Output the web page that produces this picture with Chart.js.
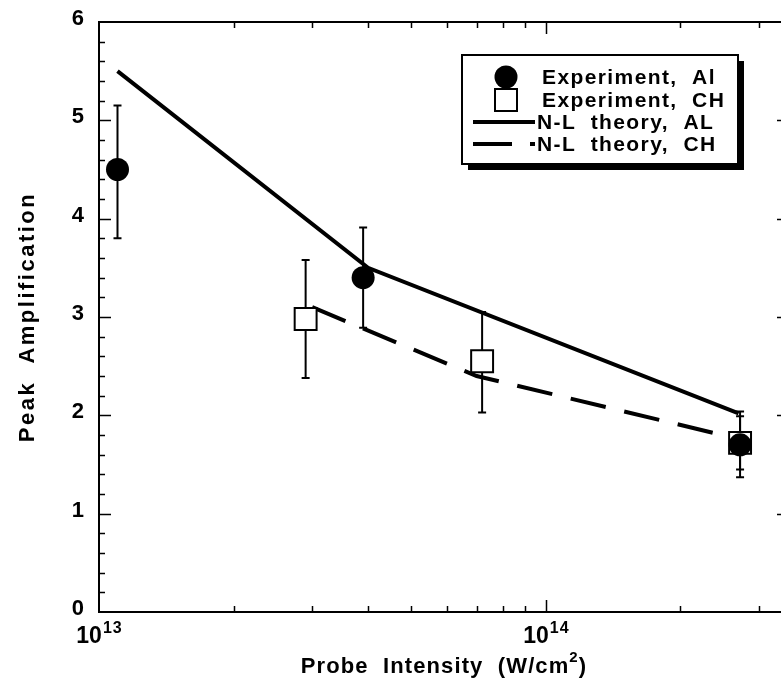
<!DOCTYPE html>
<html>
<head>
<meta charset="utf-8">
<script src="https://cdn.jsdelivr.net/npm/chart.js@4.4.1/dist/chart.umd.min.js"></script>
<style>
  html, body { margin: 0; padding: 0; background: #fff; overflow: hidden; }
  canvas { display: block; }
</style>
</head>
<body>
<canvas id="chart" width="800" height="680"></canvas>
<script>
// ── Data ──────────────────────────────────────────────────────────────────────
const alIntensity = [1.1e13, 3.9e13, 2.72e14];
const alAmp       = [4.5, 3.4, 1.7];
const alErrLow    = [3.8, 2.89, 1.37];
const alErrHigh   = [5.15, 3.91, 2.04];

const chIntensity = [2.9e13, 7.2e13, 2.72e14];
const chAmp       = [2.98, 2.55, 1.72];
const chErrLow    = [2.38, 2.03, 1.45];
const chErrHigh   = [3.58, 3.05, 1.99];

const alTheoryIntensity = [1.1e13, 4.0e13, 2.7e14];
const alTheoryAmp       = [5.5, 3.5, 2.02];
const chTheoryIntensity = [3.0e13, 7.0e13, 2.7e14];
const chTheoryAmp       = [3.1, 2.4, 1.76];

const yTickLabels = [0, 1, 2, 3, 4, 5, 6];
const xDecades    = [13, 14];               // labelled as 10^13, 10^14
const legendLabels = ['Experiment,  Al', 'Experiment,  CH', 'N-L  theory,  AL', 'N-L  theory,  CH'];

const FONT = "'Liberation Sans', Arial, Helvetica, sans-serif";

const pts = (xs, ys) => xs.map((x, i) => ({ x, y: ys[i] }));

// ── Helpers ───────────────────────────────────────────────────────────────────
function withSpacing(ctx, px, fn) {
    if ('letterSpacing' in ctx) ctx.letterSpacing = px + 'px';
    fn();
    if ('letterSpacing' in ctx) ctx.letterSpacing = '0px';
}

function drawPow(ctx, base, exp, cx, baseline, size) {
    const small = Math.round(size * 0.68);
    ctx.font = `bold ${size}px ${FONT}`;
    const wb = ctx.measureText(base).width;
    ctx.font = `bold ${small}px ${FONT}`;
    const we = ctx.measureText(exp).width + 1;
    const left = cx - (wb + we + 1) / 2;
    ctx.textAlign = 'left';
    ctx.textBaseline = 'alphabetic';
    ctx.font = `bold ${size}px ${FONT}`;
    ctx.fillText(base, left, baseline);
    ctx.font = `bold ${small}px ${FONT}`;
    withSpacing(ctx, 1, () => ctx.fillText(exp, left + wb + 1, baseline - size * 0.45));
}

// ── Plugins ───────────────────────────────────────────────────────────────────
const errorBars = {
    id: 'errorBars',
    beforeDatasetsDraw(chart) {
        const { ctx, scales: { x, y } } = chart;
        ctx.save();
        ctx.strokeStyle = '#000';
        ctx.lineWidth = 2;
        const draw = (xs, lo, hi) => xs.forEach((v, i) => {
            const px = x.getPixelForValue(v);
            const top = y.getPixelForValue(hi[i]);
            const bot = y.getPixelForValue(lo[i]);
            ctx.beginPath();
            ctx.moveTo(px, top); ctx.lineTo(px, bot);
            ctx.moveTo(px - 4, top); ctx.lineTo(px + 4, top);
            ctx.moveTo(px - 4, bot); ctx.lineTo(px + 4, bot);
            ctx.stroke();
        });
        draw(alIntensity, alErrLow, alErrHigh);
        draw(chIntensity, chErrLow, chErrHigh);
        ctx.restore();
    }
};

const frame = {
    id: 'frame',
    afterDraw(chart) {
        const { ctx, chartArea: a, scales: { x, y } } = chart;
        ctx.save();
        ctx.strokeStyle = '#000';
        ctx.fillStyle = '#000';
        ctx.lineWidth = 2;
        ctx.strokeRect(a.left, a.top, a.right - a.left, a.bottom - a.top);

        // y ticks, every 0.2, major on integers
        ctx.lineWidth = 1.5;
        ctx.beginPath();
        for (let k = 1; k < 30; k++) {
            const py = Math.round(y.getPixelForValue(k / 5)) + 0.5;
            const len = k % 5 === 0 ? 12 : 6;
            ctx.moveTo(a.left, py); ctx.lineTo(a.left + len, py);
            ctx.moveTo(a.right, py); ctx.lineTo(a.right - len, py);
        }
        // x ticks: log minors, major on decades
        for (let d = 13; d <= 14; d++) {
            for (let m = 1; m <= 9; m++) {
                const v = m * Math.pow(10, d);
                if (v <= x.min || v >= x.max) continue;
                const px = Math.round(x.getPixelForValue(v)) + 0.5;
                const len = m === 1 ? 12 : 6;
                ctx.moveTo(px, a.bottom); ctx.lineTo(px, a.bottom - len);
                ctx.moveTo(px, a.top); ctx.lineTo(px, a.top + len);
            }
        }
        ctx.stroke();

        // y tick labels
        ctx.font = `bold 22px ${FONT}`;
        ctx.textAlign = 'right';
        ctx.textBaseline = 'middle';
        yTickLabels.forEach(v => ctx.fillText(String(v), 84, y.getPixelForValue(v) - 3));

        // x tick labels
        xDecades.forEach(d => drawPow(ctx, '10', String(d), x.getPixelForValue(Math.pow(10, d)), 643, 23));

        // x title
        const cx = (a.left + a.right) / 2;
        withSpacing(ctx, 1.1, () => {
            const t1 = 'Probe  Intensity  (W/cm', t2 = ')';
            ctx.font = `bold 22px ${FONT}`;
            const w1 = ctx.measureText(t1).width;
            const w2 = ctx.measureText(t2).width;
            ctx.font = `bold 15px ${FONT}`;
            const ws = ctx.measureText('2').width;
            const left = cx - (w1 + ws + w2) / 2;
            ctx.textAlign = 'left';
            ctx.textBaseline = 'alphabetic';
            ctx.font = `bold 22px ${FONT}`;
            ctx.fillText(t1, left, 673);
            ctx.fillText(t2, left + w1 + ws, 673);
            ctx.font = `bold 15px ${FONT}`;
            ctx.fillText('2', left + w1, 662);
        });

        // y title
        ctx.save();
        ctx.translate(34, (a.top + a.bottom) / 2);
        ctx.rotate(-Math.PI / 2);
        ctx.font = `bold 22px ${FONT}`;
        ctx.textAlign = 'center';
        ctx.textBaseline = 'alphabetic';
        withSpacing(ctx, 2.5, () => ctx.fillText('Peak  Amplification', 0, 0));
        ctx.restore();

        // legend box with drop shadow
        const bx = 462, by = 55, bw = 276, bh = 109;
        ctx.fillRect(bx + 6, by + 6, bw, bh);
        ctx.fillStyle = '#fff';
        ctx.fillRect(bx, by, bw, bh);
        ctx.lineWidth = 2;
        ctx.strokeRect(bx, by, bw, bh);
        ctx.fillStyle = '#000';

        const rowY = [77, 100, 122, 144];
        ctx.beginPath();
        ctx.arc(506, rowY[0], 11.5, 0, Math.PI * 2);
        ctx.fill();
        ctx.lineWidth = 2;
        ctx.strokeRect(495, rowY[1] - 11, 22, 22);
        ctx.lineWidth = 4;
        ctx.beginPath();
        ctx.moveTo(473, rowY[2]); ctx.lineTo(535, rowY[2]);
        ctx.moveTo(473, rowY[3]); ctx.lineTo(512, rowY[3]);
        ctx.moveTo(530, rowY[3]); ctx.lineTo(535, rowY[3]);
        ctx.stroke();

        ctx.font = `bold 21px ${FONT}`;
        ctx.textAlign = 'left';
        ctx.textBaseline = 'middle';
        const textX = [542, 542, 537, 537];
        withSpacing(ctx, 1.4, () => legendLabels.forEach((t, i) => ctx.fillText(t, textX[i], rowY[i] + 1)));
        ctx.restore();
    }
};

// ── Chart ─────────────────────────────────────────────────────────────────────
new Chart(document.getElementById('chart'), {
    type: 'scatter',
    data: {
        datasets: [
            {
                label: legendLabels[0],
                data: pts(alIntensity, alAmp),
                pointStyle: 'circle',
                pointRadius: 11.5,
                backgroundColor: '#000',
                borderColor: '#000',
                borderWidth: 0
            },
            {
                label: legendLabels[1],
                data: pts(chIntensity, chAmp),
                pointStyle: 'rect',
                pointRadius: 15.5,
                backgroundColor: '#fff',
                borderColor: '#000',
                borderWidth: 2
            },
            {
                type: 'line',
                label: legendLabels[2],
                data: pts(alTheoryIntensity, alTheoryAmp),
                borderColor: '#000',
                borderWidth: 4,
                pointRadius: 0,
                fill: false
            },
            {
                type: 'line',
                label: legendLabels[3],
                data: pts(chTheoryIntensity, chTheoryAmp),
                borderColor: '#000',
                borderWidth: 4,
                borderDash: [36, 19],
                pointRadius: 0,
                fill: false
            }
        ]
    },
    options: {
        responsive: false,
        animation: false,
        // canvas is wider than the page: the right frame edge sits just past view, as in the original
        layout: { autoPadding: false, padding: { left: 99, top: 22, right: 11, bottom: 68 } },
        plugins: { legend: { display: false }, tooltip: { enabled: false } },
        scales: {
            x: { type: 'logarithmic', min: 1e13, max: 3.5e14, display: false },
            y: { min: 0, max: 6, display: false }
        }
    },
    plugins: [errorBars, frame]
});
</script>
</body>
</html>
